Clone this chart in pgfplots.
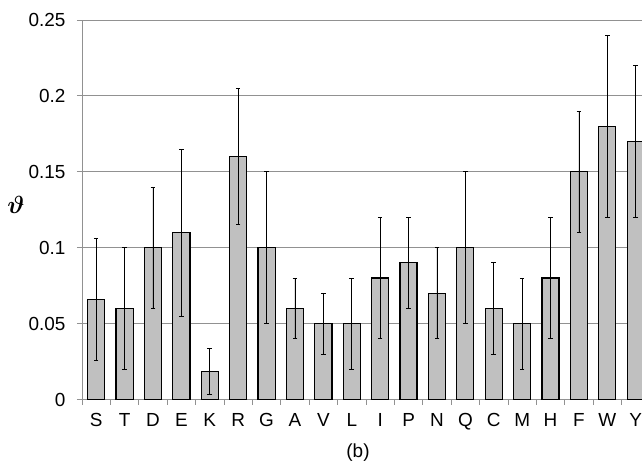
\documentclass[border=0pt]{standalone}
\usepackage{amsmath}
\usepackage{pgfplots}
\pgfplotsset{compat=1.18}
\usepackage{pgfplotstable}
\usepackage{fontspec}
\setmainfont{Liberation Sans}
\definecolor{barfill}{RGB}{192,192,192}
\definecolor{gridgray}{RGB}{145,145,145}
\pgfplotstableread{
x y ep em
0  0.066 0.040 0.040
1  0.060 0.040 0.040
2  0.100 0.040 0.040
3  0.110 0.055 0.055
4  0.0185 0.015 0.015
5  0.160 0.045 0.045
6  0.100 0.050 0.050
7  0.060 0.020 0.020
8  0.050 0.020 0.020
9  0.050 0.030 0.030
10 0.080 0.040 0.040
11 0.090 0.030 0.030
12 0.070 0.030 0.030
13 0.100 0.050 0.050
14 0.060 0.030 0.030
15 0.050 0.030 0.030
16 0.080 0.040 0.040
17 0.150 0.040 0.040
18 0.180 0.060 0.060
19 0.170 0.050 0.050
}\datatable
\begin{document}
\begin{tikzpicture}[x=1bp,y=1bp]
\begin{axis}[
  at={(0bp,0bp)}, anchor=south west,
  scale only axis,
  width=560bp, height=379.5bp,
  xmin=-0.5, xmax=19.22,
  ymin=0, ymax=0.25,
  clip=true,
  axis lines=left,
  axis line style={-, draw=gridgray, line width=0.9bp},
  ymajorgrids,
  grid style={draw=gridgray, line width=0.9bp},
  ytick={0,0.05,0.1,0.15,0.2,0.25},
  yticklabels={0,0.05,0.1,0.15,0.2,0.25},
  xtick={0,...,19},
  xticklabels={S,T,D,E,K,R,G,A,V,L,I,P,N,Q,C,M,H,F,W,Y},
  minor xtick={-0.5,0.5,...,18.5},
  tick align=outside,
  major tick length=5bp,
  minor tick length=5bp,
  major x tick style={draw=none},
  minor x tick style={draw=gridgray, line width=0.9bp},
  major y tick style={draw=gridgray, line width=0.9bp},
  tick label style={font=\fontsize{19}{21}\selectfont},
  yticklabel style={xshift=-8bp},
  xticklabel style={yshift=-5bp},
  ybar, bar width=0.6,
]
\addplot[fill=barfill, draw=black, line width=1.2bp,
  error bars/.cd, y dir=both, y explicit,
  error mark=-,
  error bar style={black, line width=0.9bp},
  error mark options={rotate=90, black, line width=0.9bp, mark size=2.3bp}]
  table[x=x, y=y, y error plus=ep, y error minus=em] {\datatable};
\end{axis}
\node at (-66bp,194.5bp) {\fontsize{23}{25}\selectfont$\boldsymbol{\vartheta}$};
\node at (276bp,-53.5bp) {\fontsize{19}{21}\selectfont(b)};
\pgfresetboundingbox
\useasboundingbox (-82bp,-65.5bp) rectangle (560bp,399.5bp);
\end{tikzpicture}
\end{document}
